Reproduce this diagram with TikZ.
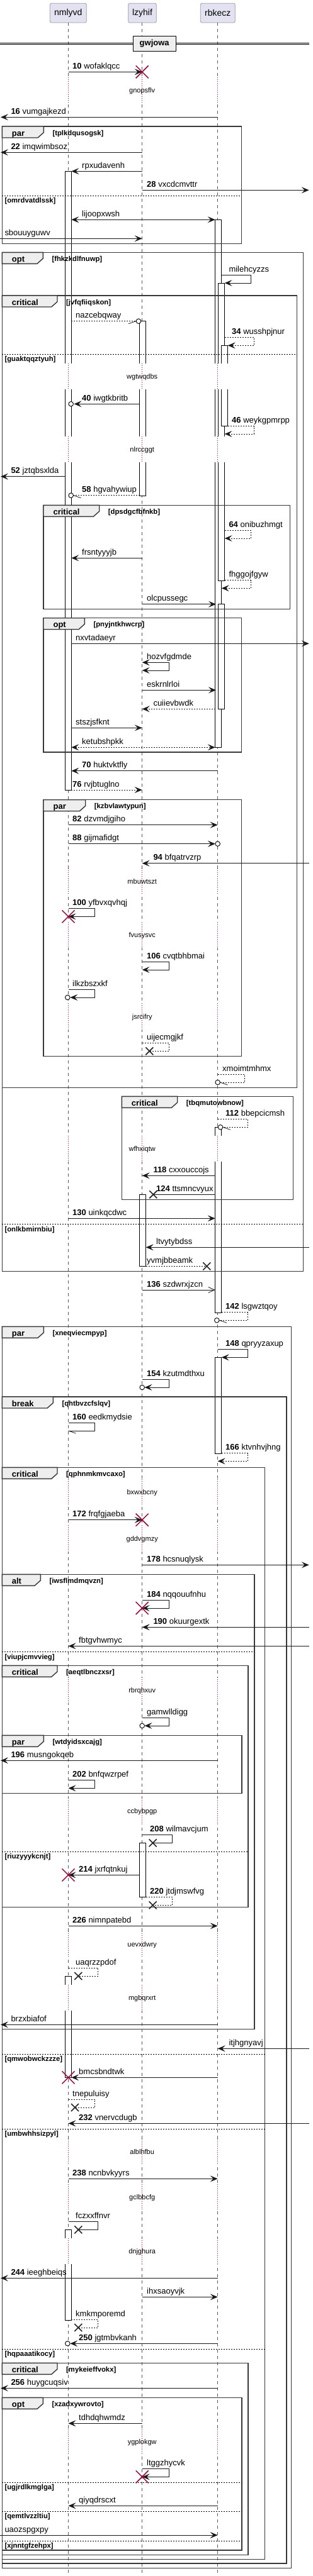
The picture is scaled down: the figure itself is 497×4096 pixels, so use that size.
\documentclass[tikz,border=0pt]{standalone}
\usepackage{fontspec}
\setmainfont{Liberation Sans}
\usetikzlibrary{arrows.meta}
\definecolor{destr}{HTML}{A80036}
\definecolor{partfill}{HTML}{E2E2F0}
\definecolor{partdraw}{HTML}{9A9AAA}
\definecolor{tabfill}{HTML}{EEEEEE}
\tikzset{
  life/.style={black!65, line width=0.6pt, dash pattern=on 5pt off 5pt},
  delayln/.style={destr, line width=0.8pt, dash pattern=on 0.8pt off 2.2pt},
  actst/.style={fill=white, draw=black, line width=0.8pt},
  msgl/.style={line width=0.8pt, draw=black!90},
  dsh/.style={dash pattern=on 2pt off 2pt},
  arr/.style={-{Stealth[length=12pt,width=10pt,inset=5pt]}},
  arrb/.style={{Stealth[length=12pt,width=10pt,inset=5pt]}-{Stealth[length=12pt,width=10pt,inset=5pt]}},
  frm/.style={line width=1.4pt, draw=black!78},
  lbl/.style={anchor=base west, inner sep=0pt, font=\fontsize{13}{15}\selectfont},
  tabl/.style={anchor=base west, inner sep=0pt, font=\bfseries\fontsize{13}{15}\selectfont},
  cond/.style={anchor=base west, inner sep=0pt, font=\bfseries\fontsize{11.3}{13}\selectfont},
  dlbl/.style={anchor=base, inner sep=0pt, font=\fontsize{11}{13}\selectfont},
  part/.style={draw=partdraw, fill=partfill, rounded corners=2.5pt, line width=0.8pt, inner sep=0pt, minimum height=30.7pt, font=\fontsize{14}{16}\selectfont}
}
\newcommand\msgtxt[3]{\node[lbl] at (#1,#2-5) {#3};}
\newcommand\redx[2]{\draw[destr,line width=1.5pt] (#1-10,#2-10) -- (#1+10,#2+10) (#1-10,#2+10) -- (#1+10,#2-10);}
\newcommand\blkx[2]{\draw[black!85,line width=1.6pt] (#1-6,#2-6) -- (#1+6,#2+6) (#1-6,#2+6) -- (#1+6,#2-6);}
\newcommand\ecirc[2]{\draw[line width=0.9pt, fill=white] (#1,#2) circle[radius=3.8pt];}
\newcommand\halfL[2]{\draw[msgl] (#1,#2) -- (#1+12,#2+4);}
\newcommand\halfR[2]{\draw[msgl] (#1,#2) -- (#1-12,#2+4);}
\newcommand\acF[3]{\draw[actst] (#1,#2) rectangle (#1+10,#3);}
\newcommand\acT[3]{\fill[white] (#1,#2) rectangle (#1+10,#3); \draw[line width=0.8pt] (#1,#3) -- (#1,#2) -- (#1+10,#2) -- (#1+10,#3);}
\newcommand\acB[3]{\fill[white] (#1,#2) rectangle (#1+10,#3); \draw[line width=0.8pt] (#1,#2) -- (#1,#3) -- (#1+10,#3) -- (#1+10,#2);}
\newcommand\acO[3]{\fill[white] (#1,#2) rectangle (#1+10,#3); \draw[line width=0.8pt] (#1,#2) -- (#1,#3) (#1+10,#2) -- (#1+10,#3);}
\newcommand\sqframe[7]{%
  \draw[frm] (#1,#2) rectangle (#3,#4);
  \filldraw[frm, fill=tabfill] (#1,#2) -- (#5,#2) -- (#5,#2+9.7) -- (#5-9.3,#2+18) -- (#1,#2+18) -- cycle;
  \node[tabl] at (#1+15.4,#2+15) {#6};
  \node[cond] at (#5+14,#2+14) {#7};}
\newcommand\sqelse[4]{\draw[line width=0.8pt, dash pattern=on 2pt off 2pt] (#1,#3) -- (#2,#3); \node[cond] at (#1+4,#3+11.5) {#4};}

\begin{document}
\begin{tikzpicture}[x=1pt,y=-1pt]
\useasboundingbox (0,0) rectangle (497,4096);
\fill[white] (0,0) rectangle (497,4096);

% participants and lifelines
\node[part, minimum width=58pt] (p1) at (108.3,20.65) {nmlyvd};
\node[part, minimum width=44.6pt] (p2) at (226,20.65) {lzyhif};
\node[part, minimum width=55pt] (p3) at (345.8,20.65) {rbkecz};
\coordinate (e1) at (108.5,4096);
\coordinate (e2) at (225.7,4096);
\coordinate (e3) at (345.7,4096);
\draw[life] (p1.south -| e1) -- (e1);
\draw[life] (p2.south -| e2) -- (e2);
\draw[life] (p3.south -| e3) -- (e3);

% delays
\foreach \L in {144.3,599.3,715,1402.3,1487.3,1616.7,1827.3,2373.3,2446.7,2688.3,2880,3092.3,3177.3,3422.3,3494.3,3580,3883.3}{
  \foreach \X in {108.5,225.7,345.7}{
    \fill[white] (\X-2,\L-21.5) rectangle (\X+2,\L+20);
    \draw[delayln] (\X,\L-21.5) -- (\X,\L+20);
  }
}

% divider
\draw[line width=1pt] (0,68.2) -- (490.7,68.2) (0,70.9) -- (490.7,70.9);
\node[draw=black, line width=1.4pt, fill=tabfill, minimum width=68pt, minimum height=24.4pt, inner sep=0pt, font=\bfseries\fontsize{13}{15}\selectfont] (div) at (245.2,69.5) {gwjowa};

% activations
\acT{103.3}{272.3}{577.8} \acO{103.3}{619.3}{693.5} \acB{103.3}{735}{1256}
\acT{341.7}{349.3}{577.8} \acO{341.7}{619.3}{693.5} \acB{341.7}{735}{1188.3}
\acT{346.7}{450}{577.8} \acO{346.7}{619.3}{693.5} \acB{346.7}{735}{923.3}
\acT{351.7}{549.3}{577.8} \acB{351.7}{619.3}{677.7}
\acT{221.7}{510.7}{577.8} \acO{221.7}{619.3}{693.5} \acB{221.7}{735}{788.3}
\acF{346.7}{960.7}{1127.3}
\acF{221.7}{1899.3}{2013.3}
\acF{221.7}{2930.3}{3016.7}
\acT{341.7}{1792.3}{1805.8} \acB{341.7}{1847.3}{2087.3}
\acF{341.7}{2158.3}{2311}
\acT{103.3}{3142}{3155.8} \acB{103.3}{3197.3}{3303.3}
\acT{103.3}{3545.3}{3558.5} \acB{103.3}{3600}{3689}

% frames
\sqframe{3.3}{201}{383.3}{387.7}{69.3}{par}{[tplkdqusogsk]}
\sqelse{3.3}{383.3}{311.3}{[omrdvatdlssk]}
\sqframe{3.3}{401.3}{481.7}{2021.7}{68.3}{opt}{[fhkzkdlfnuwp]}
\sqelse{3.3}{481.7}{1946.7}{[onlkbmirnbiu]}
\sqframe{3.3}{470}{471.7}{1729.3}{91}{critical}{[jvfqfiiqskon]}
\sqelse{3.3}{471.7}{563.3}{[guaktqqztyuh]}
\sqframe{69}{803.3}{460.7}{968.3}{157.7}{critical}{[dpsdgcfbfnkb]}
\sqframe{69}{982.7}{383.3}{1196}{134.3}{opt}{[pnyjntkhwcrp]}
\sqframe{69}{1271.7}{383.3}{1679.3}{135.7}{par}{[kzbvlawtypun]}
\sqframe{193.3}{1743.3}{465.7}{1907.7}{281.7}{critical}{[tbqmutowbnow]}
\sqframe{3.3}{2109.3}{462.7}{4083.3}{69.3}{par}{[xneqviecmpyp]}
\sqframe{3.3}{2221}{455}{4076}{84.3}{break}{[qhtbvzcfslqv]}
\sqframe{3.3}{2333.3}{420.7}{4069.3}{91}{critical}{[qphnmkmvcaxo]}
\sqelse{3.3}{420.7}{3266.3}{[qmwobwckzzze]}
\sqelse{3.3}{420.7}{3385}{[umbwhhsizpyl]}
\sqelse{3.3}{420.7}{3735}{[hqpaaatikocy]}
\sqframe{3.3}{2503.3}{404}{3226.7}{64.3}{alt}{[iwsflmdmqvzn]}
\sqelse{3.3}{404}{2626.7}{[viupjcmvvieg]}
\sqframe{3.3}{2648.3}{394}{3032.3}{91}{critical}{[aeqtlbnczxsr]}
\sqelse{3.3}{394}{2944.3}{[riuzyyykcnjt]}
\sqframe{3.3}{2759.3}{384}{2851.7}{69.3}{par}{[wtdyidsxcajg]}
\sqframe{3.3}{3757.3}{394}{4062.7}{91}{critical}{[mykeieffvokx]}
\sqframe{3.3}{3812.3}{384}{4055}{68.3}{opt}{[xzadxywrovto]}
\sqelse{3.3}{384}{3947.3}{[ugjrdlkmglga]}
\sqelse{3.3}{384}{3993.3}{[qemtlvzzltiu]}
\sqelse{3.3}{384}{4040}{[xjnntgfzehpx]}

% delay labels
\foreach \L/\t in {144.3/gnopsflv,599.3/wgtwqdbs,715/nlrccggt,1402.3/mbuwtszt,1487.3/fvusysvc,1616.7/jsrcifry,1827.3/wfhxiqtw,2373.3/bxwxbcny,2446.7/gddvgmzy,2688.3/rbrqhxuv,2880/ccbybpgp,3092.3/uevxdwry,3177.3/mgbqrxrt,3422.3/alblhfbu,3494.3/gclbbcfg,3580/dnjghura,3883.3/ygplokgw}{
  \node[dlbl] at (225.7,\L+3.5) {\t};
}

% messages
\draw[msgl,arr] (108.5,114.3) -- (225.7,114.3); \redx{225.7}{114.3} \msgtxt{115}{114.3}{\textbf{10} wofaklqcc}
\draw[msgl,arr] (345.7,186.3) -- (1,186.3); \msgtxt{17.3}{186.3}{\textbf{16} vumgajkezd}
\draw[msgl,arr] (225.7,242.3) -- (1,242.3); \msgtxt{17.3}{242.3}{\textbf{22} imqwimbsoz}
\draw[msgl,arr] (225.7,272.3) -- (113.3,272.3); \msgtxt{130}{272.3}{rpxudavenh}
\draw[msgl,arr] (225.7,302.3) -- (490.7,302.3); \msgtxt{233}{302.3}{\textbf{28} vxcdcmvttr}
\draw[msgl,arrb] (113.3,349.3) -- (341.7,349.3); \msgtxt{130}{349.3}{lijoopxwsh}
\draw[msgl,arr] (0,379.3) -- (225.7,379.3); \msgtxt{7.3}{379.3}{sbouuyguwv}
\draw[msgl,arr] (351.7,437.7) -- (398.3,437.7) -- (398.3,450) -- (356.7,450); \msgtxt{363.3}{437.7}{milehcyzzs}
\draw[msgl,dsh] (113.3,510.7) -- (216,510.7); \halfR{216}{510.7} \ecirc{220}{510.7} \msgtxt{120}{510.7}{nazcebqway}
\draw[msgl,dsh,arr] (356.7,536.7) -- (403.3,536.7) -- (403.3,549.3) -- (361.7,549.3); \msgtxt{368}{536.7}{\textbf{34} wusshpjnur}
\draw[msgl,arr] (221.7,642.3) -- (117.5,642.3); \ecirc{112.7}{642.3} \msgtxt{130}{642.3}{\textbf{40} iwgtkbritb}
\draw[msgl,dsh,arr] (361.7,677.7) -- (403.3,677.7) -- (403.3,690) -- (356.7,690); \msgtxt{368}{677.7}{\textbf{46} weykgpmrpp}
\draw[msgl,arr] (103.3,757.7) -- (1,757.7); \msgtxt{17.3}{757.7}{\textbf{52} jztqbsxlda}
\draw[msgl,dsh] (221.7,787.7) -- (116.5,787.7); \halfL{116.5}{787.7} \ecirc{112.7}{787.7} \msgtxt{130}{787.7}{\textbf{58} hgvahywiup}
\draw[msgl,dsh,arr] (356.7,843.3) -- (398.3,843.3) -- (398.3,856) -- (356.7,856); \msgtxt{363.3}{843.3}{\textbf{64} onibuzhmgt}
\draw[msgl,arr] (225.7,887.3) -- (113.3,887.3); \msgtxt{130}{887.3}{frsntyyyjb}
\draw[msgl,dsh,arr] (356.7,922.7) -- (398.3,922.7) -- (398.3,935.3) -- (351.7,935.3); \msgtxt{363.3}{922.7}{fhggojfgyw}
\draw[msgl,arr] (225.7,960.7) -- (343,960.7); \msgtxt{233}{960.7}{olcpussegc}
\draw[msgl,arr] (113.3,1023.3) -- (490.7,1023.3); \msgtxt{120}{1023.3}{nxvtadaeyr}
\draw[msgl,arrb] (225.7,1053.3) -- (268.3,1053.3) -- (268.3,1066) -- (225.7,1066); \msgtxt{233}{1053.3}{hozvfgdmde}
\draw[msgl,arr] (225.7,1097.3) -- (343,1097.3); \msgtxt{233}{1097.3}{eskrnlrloi}
\draw[msgl,dsh,arr] (341.7,1127.3) -- (225.7,1127.3); \msgtxt{243.3}{1127.3}{cuiievbwdk}
\draw[msgl,arr] (113.3,1157.3) -- (225.7,1157.3); \msgtxt{120}{1157.3}{stszjsfknt}
\draw[msgl,dsh,arrb] (113.3,1188.3) -- (341.7,1188.3); \msgtxt{130}{1188.3}{ketubshpkk}
\draw[msgl,arr] (345.7,1225.7) -- (113.3,1225.7); \msgtxt{130}{1225.7}{\textbf{70} huktvktfly}
\draw[msgl,dsh,arr] (113.3,1256) -- (225.7,1256); \msgtxt{115}{1256}{\textbf{76} rvjbtuglno}
\draw[msgl,arr] (108.5,1311.7) -- (345.7,1311.7); \msgtxt{115}{1311.7}{\textbf{82} dzvmdjgiho}
\draw[msgl,arr] (108.5,1341.7) -- (341.9,1341.7); \ecirc{345.7}{1341.7} \msgtxt{115}{1341.7}{\textbf{88} gijmafidgt}
\draw[msgl,arr] (490.7,1372.7) -- (225.7,1372.7); \msgtxt{243.3}{1372.7}{\textbf{94} bfqatrvzrp}
\draw[msgl,arr] (108.5,1444.3) -- (150.7,1444.3) -- (150.7,1457.3) -- (108.5,1457.3); \redx{108.5}{1457.3} \msgtxt{115}{1444.3}{\textbf{100} yfbvxqvhqj}
\draw[msgl,arr] (225.7,1529.3) -- (268.3,1529.3) -- (268.3,1542) -- (225.7,1542); \msgtxt{233}{1529.3}{\textbf{106} cvqtbhbmai}
\draw[msgl,arr] (108.5,1573.3) -- (150.7,1573.3) -- (150.7,1586) -- (111.3,1586); \ecirc{107.3}{1586} \msgtxt{115}{1573.3}{ilkzbszxkf}
\draw[msgl,dsh] (225.7,1658.3) -- (268.3,1658.3) -- (268.3,1671.3) -- (237.3,1671.3); \blkx{237.3}{1671.3} \msgtxt{233}{1658.3}{uijecmgjkf}
\draw[msgl,dsh] (345.7,1708.3) -- (388.3,1708.3) -- (388.3,1721) -- (349.5,1721); \halfL{349.5}{1721} \ecirc{345.7}{1721} \msgtxt{353}{1708.3}{xmoimtmhmx}
\draw[msgl,dsh] (345.7,1779.3) -- (393.3,1779.3) -- (393.3,1792.3) -- (353.8,1792.3); \halfL{353.8}{1792.3} \ecirc{350}{1792.3} \msgtxt{358}{1779.3}{\textbf{112} bbepcicmsh}
\draw[msgl,arr] (341.7,1869.3) -- (225.7,1869.3); \msgtxt{243.3}{1869.3}{\textbf{118} cxxouccojs}
\draw[msgl] (341.7,1899.3) -- (243.3,1899.3); \blkx{243.3}{1899.3} \msgtxt{248}{1899.3}{\textbf{124} ttsmncvyux}
\draw[msgl,arr] (108.5,1937.3) -- (341.7,1937.3); \msgtxt{115}{1937.3}{\textbf{130} uinkqcdwc}
\draw[msgl,arr] (490.7,1983.3) -- (231.7,1983.3); \msgtxt{248}{1983.3}{ltvytybdss}
\draw[msgl,dsh] (231.7,2013.3) -- (328.3,2013.3); \blkx{328.3}{2013.3} \msgtxt{233}{2013.3}{yvmjbbeamk}
\draw[msgl,-{Straight Barb[length=10pt,width=9pt]}] (225.7,2051) -- (341.7,2051); \msgtxt{233}{2051}{\textbf{136} szdwrxjzcn}
\draw[msgl,dsh] (351.7,2086.7) -- (393.3,2086.7) -- (393.3,2099.3) -- (348.1,2099.3); \halfL{348.1}{2099.3} \ecirc{344.3}{2099.3} \msgtxt{358}{2086.7}{\textbf{142} lsgwztqoy}
\draw[msgl,arr] (345.7,2145.7) -- (393.3,2145.7) -- (393.3,2158.3) -- (351.7,2158.3); \msgtxt{358}{2145.7}{\textbf{148} qpryyzaxup}
\draw[msgl,arr] (225.7,2193.3) -- (268.3,2193.3) -- (268.3,2206) -- (229.5,2206); \ecirc{225.7}{2206} \msgtxt{233}{2193.3}{\textbf{154} kzutmdthxu}
\draw[msgl] (108.5,2262.3) -- (150.7,2262.3) -- (150.7,2275) -- (108.5,2275); \halfL{108.5}{2275} \msgtxt{115}{2262.3}{\textbf{160} eedkmydsie}
\draw[msgl,dsh,arr] (351.7,2310.7) -- (393.3,2310.7) -- (393.3,2323.3) -- (345.7,2323.3); \msgtxt{358}{2310.7}{\textbf{166} ktvnhvjhng}
\draw[msgl,arr] (108.5,2416.7) -- (225.7,2416.7); \redx{225.7}{2416.7} \msgtxt{115}{2416.7}{\textbf{172} frqfgjaeba}
\draw[msgl,arr] (225.7,2488.3) -- (490.7,2488.3); \msgtxt{233}{2488.3}{\textbf{178} hcsnuqlysk}
\draw[msgl,arr] (225.7,2544.3) -- (268.3,2544.3) -- (268.3,2557) -- (225.7,2557); \redx{225.7}{2557} \msgtxt{233}{2544.3}{\textbf{184} nqqouufnhu}
\draw[msgl,arr] (490.7,2587.3) -- (225.7,2587.3); \msgtxt{243.3}{2587.3}{\textbf{190} okuurgextk}
\draw[msgl,arr] (490.7,2617.3) -- (108.5,2617.3); \msgtxt{125}{2617.3}{fbtgvhwmyc}
\draw[msgl,arr] (225.7,2731.7) -- (268.3,2731.7) -- (268.3,2744) -- (229.5,2744); \ecirc{225.7}{2744} \msgtxt{233}{2731.7}{gamwlldigg}
\draw[msgl,arr] (345.7,2799.3) -- (1,2799.3); \msgtxt{17.3}{2799.3}{\textbf{196} musngokqeb}
\draw[msgl,arr] (108.5,2830) -- (150.7,2830) -- (150.7,2843.3) -- (108.5,2843.3); \msgtxt{115}{2830}{\textbf{202} bnfqwzrpef}
\draw[msgl] (225.7,2917.7) -- (273.3,2917.7) -- (273.3,2930.3) -- (242.7,2930.3); \blkx{242.7}{2930.3} \msgtxt{238}{2917.7}{\textbf{208} wilmavcjum}
\draw[msgl,arr] (221.7,2981.3) -- (108.5,2981.3); \redx{108.5}{2981.3} \msgtxt{125}{2981.3}{\textbf{214} jxrfqtnkuj}
\draw[msgl,dsh] (231.7,3016.3) -- (273.3,3016.3) -- (273.3,3029.3) -- (242.7,3029.3); \blkx{242.7}{3029.3} \msgtxt{238}{3016.3}{\textbf{220} jtdjmswfvg}
\draw[msgl,arr] (108.5,3062.3) -- (345.7,3062.3); \msgtxt{115}{3062.3}{\textbf{226} nimnpatebd}
\draw[msgl,dsh] (108.5,3129.3) -- (155.7,3129.3) -- (155.7,3142) -- (124.3,3142); \blkx{124.3}{3142} \msgtxt{120}{3129.3}{uaqrzzpdof}
\draw[msgl,arr] (345.7,3219.3) -- (1,3219.3); \msgtxt{17.3}{3219.3}{brzxbiafof}
\draw[msgl,arr] (490.7,3257.3) -- (345.7,3257.3); \msgtxt{363.3}{3257.3}{itjhgnyavj}
\draw[msgl,arr] (345.7,3303.3) -- (113.3,3303.3); \redx{108.5}{3303.3} \msgtxt{125}{3303.3}{bmcsbndtwk}
\draw[msgl,dsh] (108.5,3338.3) -- (150.7,3338.3) -- (150.7,3351) -- (119,3351); \blkx{119}{3351} \msgtxt{115}{3338.3}{tnepuluisy}
\draw[msgl,arr] (490.7,3376.3) -- (108.5,3376.3); \msgtxt{125}{3376.3}{\textbf{232} vnervcdugb}
\draw[msgl,arr] (108.5,3464.3) -- (345.7,3464.3); \msgtxt{115}{3464.3}{\textbf{238} ncnbvkyyrs}
\draw[msgl] (108.5,3532.3) -- (155.7,3532.3) -- (155.7,3545.3) -- (124.3,3545.3); \blkx{124.3}{3545.3} \msgtxt{120}{3532.3}{fczxxffnvr}
\draw[msgl,arr] (345.7,3622.3) -- (1,3622.3); \msgtxt{17.3}{3622.3}{\textbf{244} ieeghbeiqs}
\draw[msgl,arr] (225.7,3652.3) -- (345.7,3652.3); \msgtxt{233}{3652.3}{ihxsaoyvjk}
\draw[msgl,dsh] (113.3,3688.3) -- (155.7,3688.3) -- (155.7,3701) -- (124.3,3701); \blkx{124.3}{3701} \msgtxt{120}{3688.3}{kmkmporemd}
\draw[msgl,arr] (345.7,3726.3) -- (111.3,3726.3); \ecirc{107.3}{3726.3} \msgtxt{125}{3726.3}{\textbf{250} jgtmbvkanh}
\draw[msgl,arr] (345.7,3797.3) -- (1,3797.3); \msgtxt{17.3}{3797.3}{\textbf{256} huygcuqsiv}
\draw[msgl,arr] (225.7,3853.3) -- (108.5,3853.3); \msgtxt{125}{3853.3}{tdhdqhwmdz}
\draw[msgl,arr] (225.7,3925.7) -- (268.3,3925.7) -- (268.3,3938.3) -- (225.7,3938.3); \redx{225.7}{3938.3} \msgtxt{233}{3925.7}{ltggzhycvk}
\draw[msgl,arr] (345.7,3984.3) -- (108.5,3984.3); \msgtxt{125}{3984.3}{qiyqdrscxt}
\draw[msgl,arr] (0,4031) -- (345.7,4031); \msgtxt{7.3}{4031}{uaozspgxpy}
\end{tikzpicture}
\end{document}
